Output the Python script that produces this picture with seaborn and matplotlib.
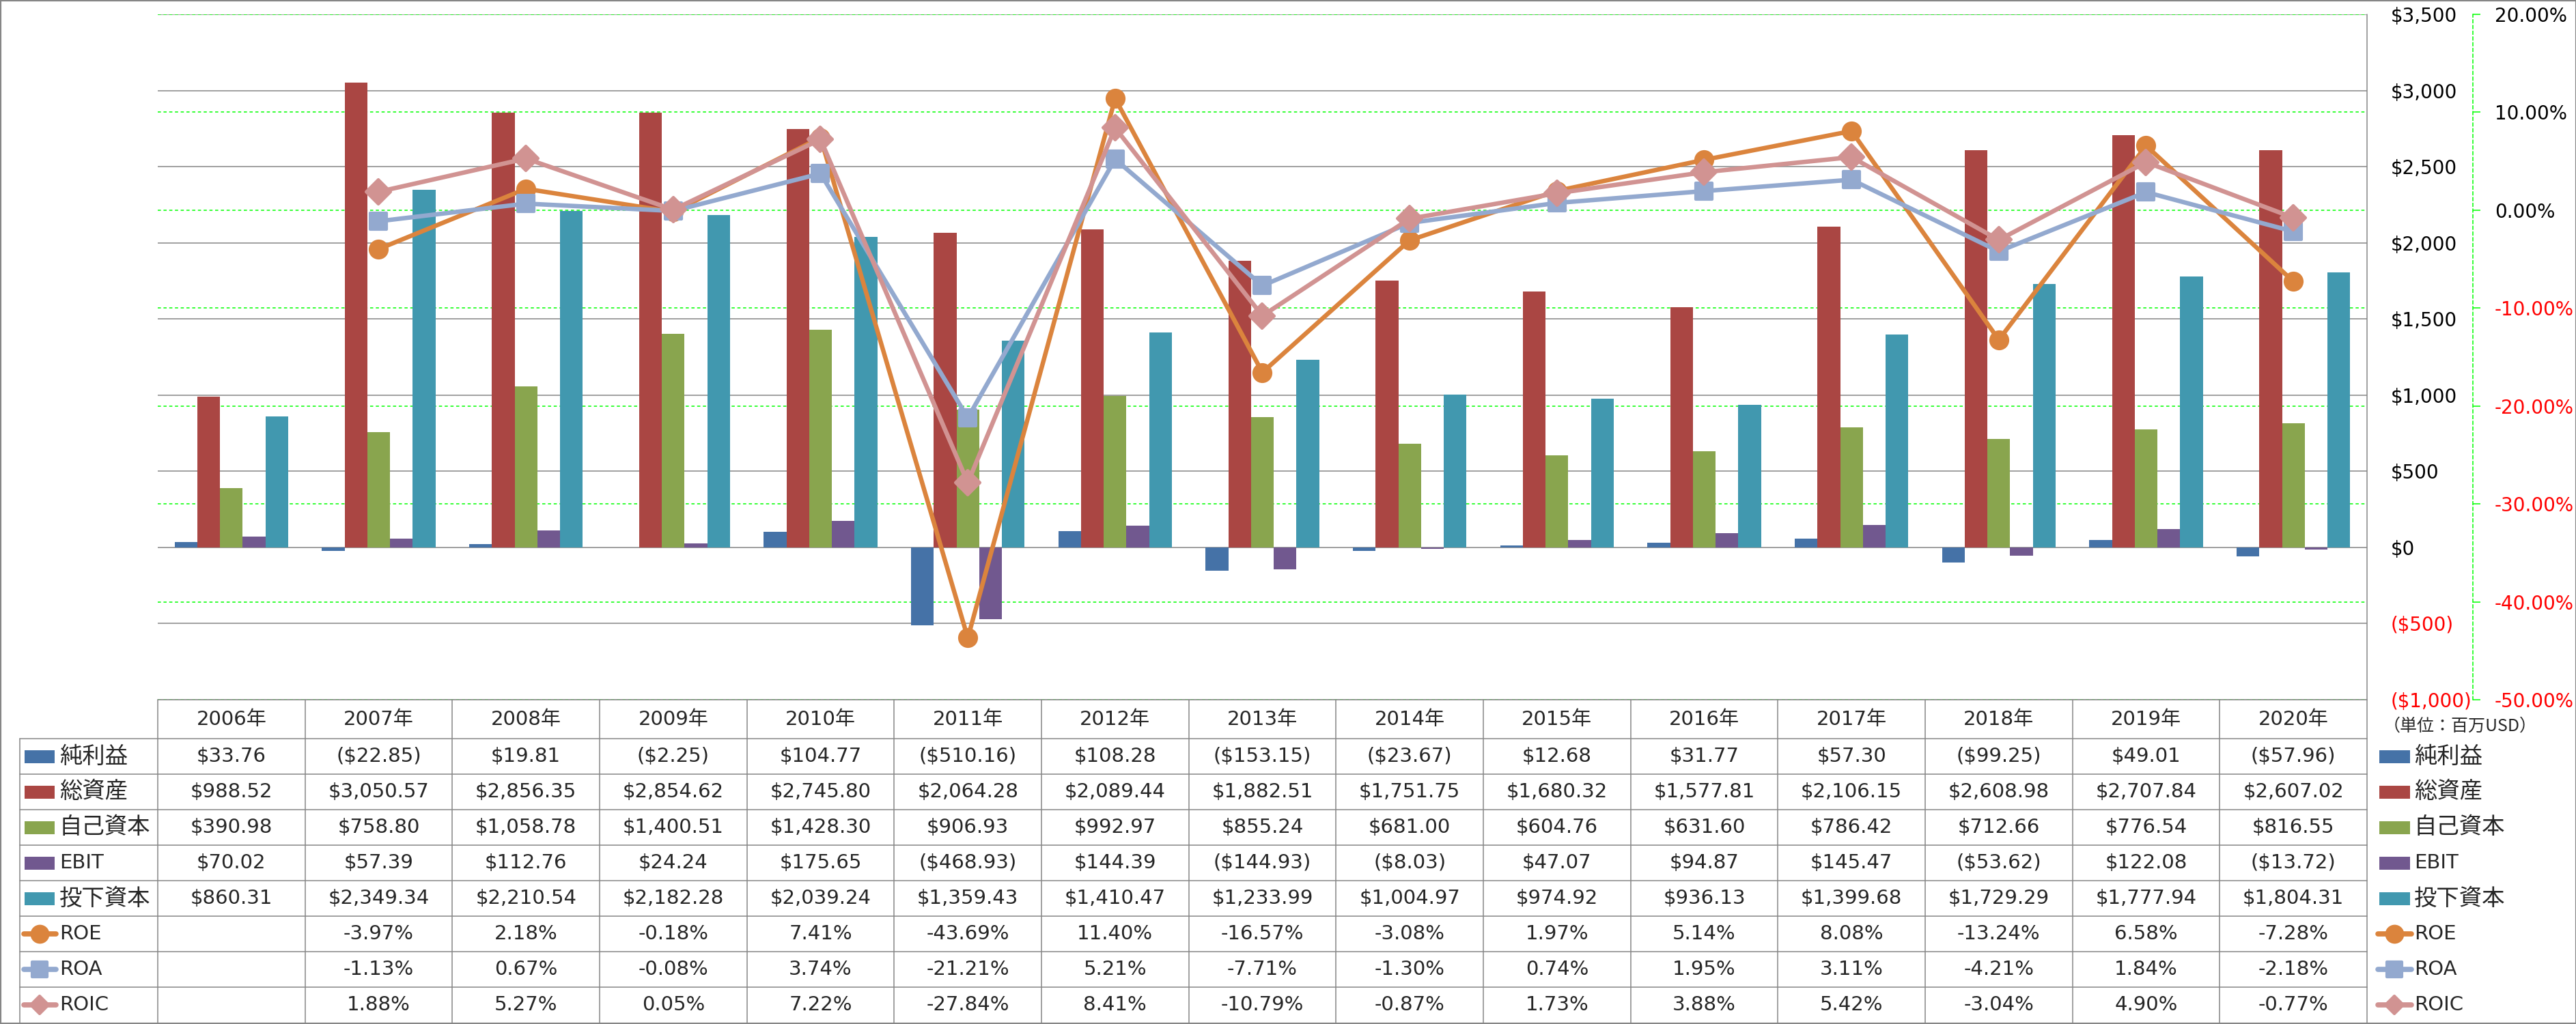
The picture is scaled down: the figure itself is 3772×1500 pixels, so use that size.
import matplotlib.pyplot as plt
import matplotlib.transforms as mtransforms
from matplotlib.markers import MarkerStyle
from matplotlib.patches import Rectangle
from matplotlib.lines import Line2D
import numpy as np
import pandas as pd
import seaborn as sns

# data (millions USD / percent)
years = ['2006年', '2007年', '2008年', '2009年', '2010年', '2011年', '2012年', '2013年',
         '2014年', '2015年', '2016年', '2017年', '2018年', '2019年', '2020年']
net_income = [33.76, -22.85, 19.81, -2.25, 104.77, -510.16, 108.28, -153.15,
              -23.67, 12.68, 31.77, 57.30, -99.25, 49.01, -57.96]
total_assets = [988.52, 3050.57, 2856.35, 2854.62, 2745.80, 2064.28, 2089.44, 1882.51,
                1751.75, 1680.32, 1577.81, 2106.15, 2608.98, 2707.84, 2607.02]
equity = [390.98, 758.80, 1058.78, 1400.51, 1428.30, 906.93, 992.97, 855.24,
          681.00, 604.76, 631.60, 786.42, 712.66, 776.54, 816.55]
ebit = [70.02, 57.39, 112.76, 24.24, 175.65, -468.93, 144.39, -144.93,
        -8.03, 47.07, 94.87, 145.47, -53.62, 122.08, -13.72]
invested_capital = [860.31, 2349.34, 2210.54, 2182.28, 2039.24, 1359.43, 1410.47, 1233.99,
                    1004.97, 974.92, 936.13, 1399.68, 1729.29, 1777.94, 1804.31]
roe = [np.nan, -3.97, 2.18, -0.18, 7.41, -43.69, 11.40, -16.57,
       -3.08, 1.97, 5.14, 8.08, -13.24, 6.58, -7.28]
roa = [np.nan, -1.13, 0.67, -0.08, 3.74, -21.21, 5.21, -7.71,
       -1.30, 0.74, 1.95, 3.11, -4.21, 1.84, -2.18]
roic = [np.nan, 1.88, 5.27, 0.05, 7.22, -27.84, 8.41, -10.79,
        -0.87, 1.73, 3.88, 5.42, -3.04, 4.90, -0.77]

bar_names = ['純利益', '総資産', '自己資本', 'EBIT', '投下資本']
bar_values = [net_income, total_assets, equity, ebit, invested_capital]
bar_colors = ['#4572A7', '#AA4643', '#89A54E', '#71588F', '#4198AF']

line_names = ['ROE', 'ROA', 'ROIC']
line_values = [roe, roa, roic]
line_colors = ['#DB843D', '#93A9CF', '#D19392']
line_markers = ['o', 's', 'D']
line_msize = [18, 17, 18]
icon_msize = [17, 16, 13]

money_ticks = [-1000, -500, 0, 500, 1000, 1500, 2000, 2500, 3000, 3500]
pct_ticks = [-50, -40, -30, -20, -10, 0, 10, 20]

sns.set_theme(style='white')
plt.rcParams['font.family'] = ['DejaVu Sans', 'Noto Sans CJK JP']

W, H = 3773, 1500
GRAY = '#868686'
GREEN = '#00FF00'
TXT = 21


def fx(px):
    return px / W


def fy(py):
    return 1 - py / H


def money(v):
    return f"${v:,.2f}" if v >= 0 else f"(${-v:,.2f})"


def pct(v):
    return "" if np.isnan(v) else f"{v:.2f}%"


fig = plt.figure(figsize=(W / 100, H / 100), dpi=100)
p_left, p_right, p_top, p_bottom = 231, 3466, 21, 1025
ax = fig.add_axes([fx(p_left), fy(p_bottom), fx(p_right - p_left), (p_bottom - p_top) / H])

#bars
bars_df = pd.DataFrame({'year': years, **dict(zip(bar_names, bar_values))})
bars_df = bars_df.melt(id_vars='year', var_name='item', value_name='value')
sns.barplot(data=bars_df, x='year', y='value', hue='item', order=years,
            hue_order=bar_names, palette=bar_colors, width=0.77, saturation=1,
            errorbar=None, legend=False, linewidth=0, zorder=2, ax=ax)

#lines on secondary axis
ax2 = ax.twinx()
pos = np.arange(len(years))
for name, vals, c, m, ms in zip(line_names, line_values, line_colors, line_markers, line_msize):
    d = pd.DataFrame({'pos': pos, 'value': vals}).dropna()
    sns.lineplot(data=d, x='pos', y='value', color=c,
                 marker=MarkerStyle(m, joinstyle='round'), markersize=ms,
                 markeredgecolor=c, markeredgewidth=3, linewidth=4.7, ax=ax2)

ax.set_xlim(-0.5, len(years) - 0.5)
ax.set_ylim(money_ticks[0], money_ticks[-1])
ax2.set_ylim(pct_ticks[0], pct_ticks[-1])
for a in (ax, ax2):
    a.set_xlabel('')
    a.set_ylabel('')
    for s in a.spines.values():
        s.set_visible(False)
ax.tick_params(axis='x', bottom=False, labelbottom=False)
ax2.tick_params(axis='x', bottom=False, labelbottom=False)

# grid lines
ax.set_axisbelow(True)
ax.yaxis.grid(True, color=GRAY, linewidth=1.1)
ax.xaxis.grid(False)
blend = mtransforms.blended_transform_factory(ax.transAxes, ax2.transData)
for p in pct_ticks:
    ax.plot([0, 1], [p, p], transform=blend, color=GREEN, lw=1.1,
            ls=(0, (3, 2.5)), zorder=1)

# primary axis labels on the right
ax.set_yticks(money_ticks, [f"${v:,.0f}" if v >= 0 else f"(${-v:,.0f})" for v in money_ticks])
ax.tick_params(axis='y', left=False, right=False, labelleft=False, labelright=True,
               length=0, pad=25, labelsize=20)
for lbl, v in zip(ax.get_yticklabels(), money_ticks):
    lbl.set_color('red' if v < 0 else 'black')

# secondary axis (percent)
ax2.spines['right'].set_visible(True)
ax2.spines['right'].set_position(('axes', (3621 - p_left) / (p_right - p_left)))
ax2.spines['right'].set_color(GREEN)
ax2.spines['right'].set_linestyle((0, (3, 2.5)))
ax2.spines['right'].set_linewidth(1.1)
ax2.set_yticks(pct_ticks, [f"{v:.2f}%" for v in pct_ticks])
ax2.tick_params(axis='y', right=True, left=False, direction='out', length=8,
                width=1.1, color=GREEN, pad=15, labelsize=20)
for lbl, v in zip(ax2.get_yticklabels(), pct_ticks):
    lbl.set_color('red' if v < 0 else 'black')

# data table
tb = mtransforms.blended_transform_factory(ax.transData, fig.transFigure)
head_top, head_bot, tab_bot = 1025, 1082, 1498
bounds = np.linspace(head_bot, tab_bot, 9)
centers = (bounds[:-1] + bounds[1:]) / 2
label_left = 29

for i, y in enumerate(years):
    ax.text(i, fy((head_top + head_bot) / 2), y, transform=tb, ha='center',
            va='center', fontsize=TXT)

rows = [[money(v) for v in vals] for vals in bar_values] + \
       [[pct(v) for v in vals] for vals in line_values]
for r, cells in enumerate(rows):
    for i, txt in enumerate(cells):
        ax.text(i, fy(centers[r]), txt, transform=tb, ha='center', va='center', fontsize=TXT)

line_kw = dict(color=GRAY, lw=1.1)
fig.add_artist(Line2D([fx(p_left), fx(p_right)], [fy(head_top)] * 2, transform=fig.transFigure, **line_kw))
for b in bounds[:-1]:
    fig.add_artist(Line2D([fx(label_left), fx(p_right)], [fy(b)] * 2, transform=fig.transFigure, **line_kw))
fig.add_artist(Line2D([fx(label_left)] * 2, [fy(head_bot), fy(tab_bot)], transform=fig.transFigure, **line_kw))
for k in range(len(years)):
    fig.add_artist(Line2D([k - 0.5] * 2, [fy(head_top), fy(tab_bot)], transform=tb, **line_kw))
fig.add_artist(Line2D([fx(p_right)] * 2, [fy(p_top), fy(tab_bot)], transform=fig.transFigure, **line_kw))


def label_size(s):
    return 24 if any(ord(ch) > 127 for ch in s) else TXT


def draw_icon(x0, x1, tx, yc, name, color, marker=None, ms=0):
    if marker is None:
        fig.add_artist(Rectangle((fx(x0), fy(yc + 9.5)), fx(x1 - x0), 19 / H,
                                 transform=fig.transFigure, color=color, lw=0))
    else:
        fig.add_artist(Line2D([fx(x0), fx(x1)], [fy(yc)] * 2, transform=fig.transFigure,
                              color=color, lw=5.5, solid_capstyle='round'))
        fig.add_artist(Line2D([fx((x0 + x1) / 2)], [fy(yc)], transform=fig.transFigure,
                              color=color, marker=MarkerStyle(marker, joinstyle='round'),
                              markersize=ms, markeredgewidth=3, lw=0))
    fig.text(fx(tx), fy(yc), name, ha='left', va='center', fontsize=label_size(name))


names = bar_names + line_names
colors = bar_colors + line_colors
markers = [None] * len(bar_names) + line_markers
msizes = [0] * len(bar_names) + icon_msize
for r, (n, c, m, ms) in enumerate(zip(names, colors, markers, msizes)):
    if m is None:
        draw_icon(36, 80, 87, centers[r], n, c)
        draw_icon(3484, 3529, 3535, centers[r], n, c)
    else:
        draw_icon(35, 82, 87, centers[r], n, c, m, ms)
        draw_icon(3482, 3531, 3535, centers[r], n, c, m, ms)

fig.text(fx(3490), fy(1064), '（単位：百万USD）', ha='left', va='center', fontsize=18,
         family=['Noto Sans CJK JP', 'DejaVu Sans'])

# outer frame
fig.add_artist(Rectangle((0, 0), 1, 1, transform=fig.transFigure, fill=False,
                         edgecolor=GRAY, lw=3))

fig.savefig('out.png', dpi=100)
